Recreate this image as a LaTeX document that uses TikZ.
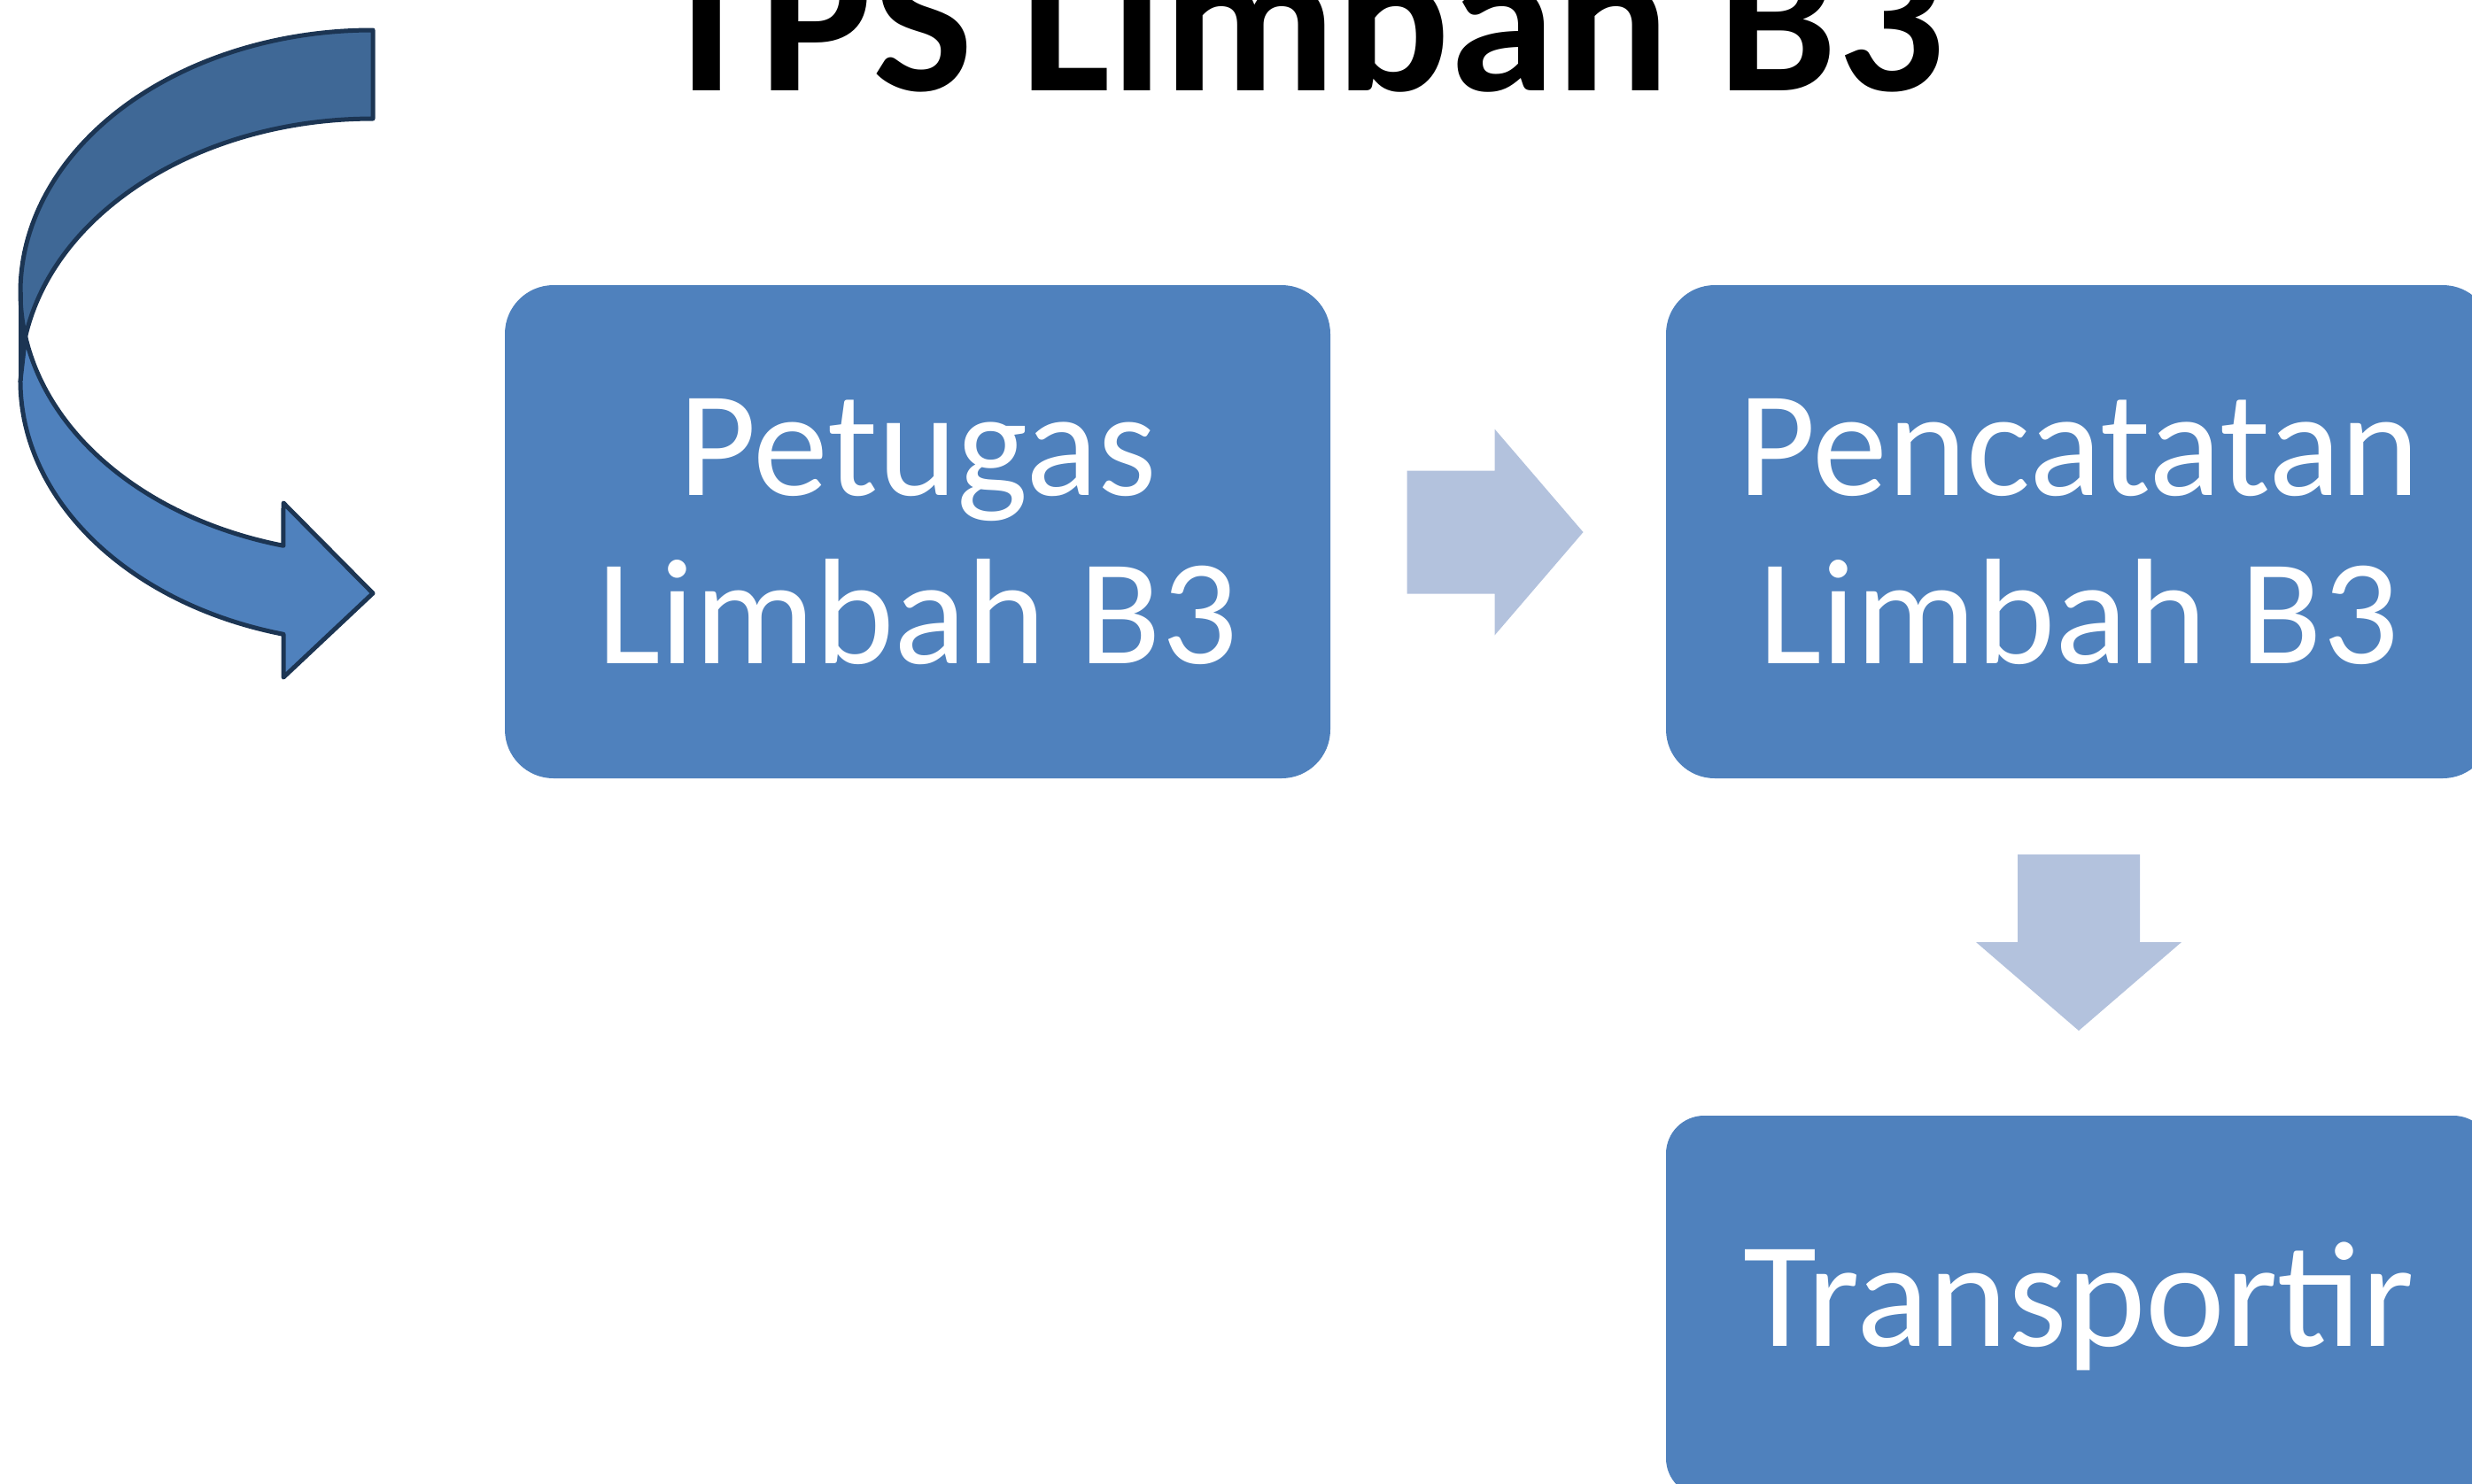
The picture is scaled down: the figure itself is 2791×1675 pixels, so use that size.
\documentclass[tikz,border=0pt]{standalone}
\usepackage{fontspec}
\setmainfont{Carlito}
\usetikzlibrary{calc}

\definecolor{boxblue}{RGB}{79,129,189}
\definecolor{flowblue}{RGB}{179,194,221}
\definecolor{bandblue}{RGB}{63,104,150}
\definecolor{bandline}{RGB}{28,53,83}

\begin{document}
\begin{tikzpicture}[x=0.1mm, y=-0.1mm,
  stage/.style={fill=boxblue, text=white, rounded corners=5.5mm, minimum width=93.2mm,
    minimum height=55.7mm, inner sep=0pt, align=center, font=\fontsize{48.4}{54.1}\selectfont},
  flow/.style={fill=flowblue},
  band/.style={draw=bandline, line width=0.5mm, line join=round}]
\useasboundingbox (0,0) rectangle (2791,1675);
\clip (0,0) rectangle (2791,1675);

% Title
\node[anchor=base, font=\bfseries\fontsize{68.3}{80}\selectfont] (title) at (1467,102) {TPS Limbah B3};

% Steps
\node[stage] (petugas) at (1036,600.5) {Petugas\\Limbah B3};
\node[stage] (pencatatan) at (2347,600.5) {Pencatatan\\Limbah B3};
\node[stage, minimum height=43mm, rounded corners=4.3mm] (transportir) at (2347,1475) {Transportir};

% Block arrows
\coordinate (m1) at ($(petugas.east)!0.5!(pencatatan.west)$);
\coordinate (m2) at ($(pencatatan.south)!0.5!(transportir.north)$);
\fill[flow] (m1) ++(-103,-69) -- ++(99,0) -- ++(0,-47) -- ++(100,116.5) -- ++(-100,116.5)
  -- ++(0,-47) -- ++(-99,0) -- cycle;
\fill[flow] (m2) ++(-69,-104.5) -- ++(138,0) -- ++(0,99) -- ++(47,0) -- ++(-116,100)
  -- ++(-116,-100) -- ++(47,0) -- cycle;

% U-turn arrow on the left
\path[band, fill=bandblue] (421,34)
  arc[start angle=270, end angle=170.27, x radius=398, y radius=296]
  arc[start angle=189.73, end angle=270, x radius=398, y radius=296] -- cycle;
\path[band, fill=boxblue] (28.7,380)
  arc[start angle=170.27, end angle=104.7, x radius=398, y radius=296]
  -- (320,568) -- (421,670) -- (320,765) -- (320,716.3)
  arc[start angle=104.7, end angle=180, x radius=398, y radius=296] -- cycle;
\draw[band] (23,330) -- (23,430);
\end{tikzpicture}
\end{document}
